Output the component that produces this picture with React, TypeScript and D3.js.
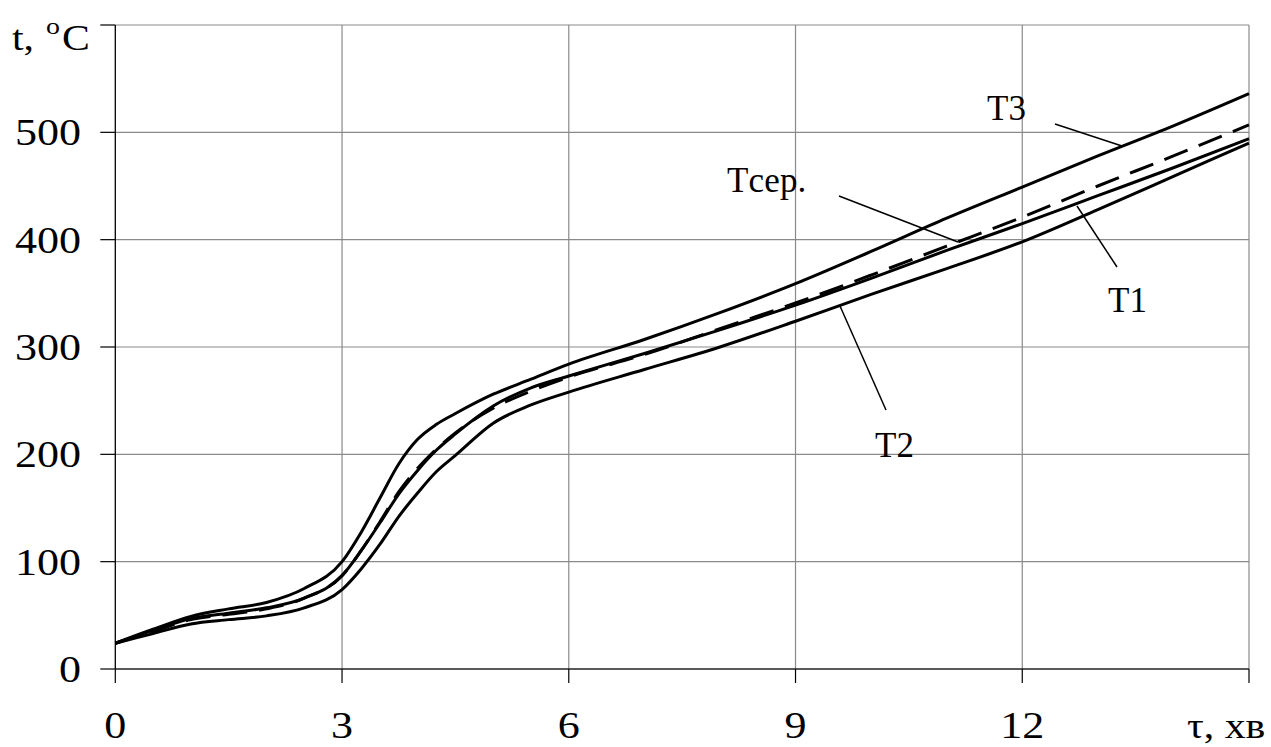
import React from "react";
import * as d3 from "d3";

const times = [0, 0.5, 1, 1.5, 2, 2.5, 3, 3.25, 3.5, 3.75, 4, 4.25, 4.5, 5, 5.5, 6, 7, 8, 9, 10, 11, 12, 13, 14, 15];
const t3 = [24, 37, 49, 56, 62, 75, 100, 127, 159, 191, 214, 228, 238, 256, 270, 284, 307, 332, 359, 389, 420, 449, 478, 506, 536];
const t1 = [24, 36, 47, 52, 57, 66, 87, 110, 136, 163, 185, 204, 219, 245, 262, 273, 294, 316, 339, 364, 390, 415, 441, 467, 494];
const t2 = [24, 33, 42, 46, 49.5, 57, 74, 93, 116, 142, 164, 184, 199, 229, 246, 258, 279, 300, 324, 349, 373, 398, 428, 459, 490];
const tcep = [24, 35, 46, 51, 56, 66, 87, 110, 137, 165, 187, 205, 220, 243, 259, 272, 293, 317, 341, 367, 394, 421, 450, 478, 507];

const xTicks = [0, 3, 6, 9, 12, 15];
const xTickLabels = ["0", "3", "6", "9", "12"];
const yTicks = [0, 100, 200, 300, 400, 500, 600];
const yTickLabels = ["0", "100", "200", "300", "400", "500"];

const seriesNames = ["T3", "T1", "T2", "Tсер."];

export default function App() {
  const x = d3.scaleLinear().domain([0, 15]).range([115.3, 1249]);
  const y = d3.scaleLinear().domain([0, 600]).range([669, 25]);
  const line = d3
    .line<number>()
    .x((_, i) => x(times[i]))
    .y((d) => y(d))
    .curve(d3.curveMonotoneX);

  const font = "'Liberation Serif', 'Times New Roman', serif";
  const grid = "#8a8a8a";
  const sx = 1.16;

  return (
    <svg
      width={1271}
      height={747}
      style={{ position: "absolute", left: 0, top: 0, background: "#fff" }}
      fontFamily={font}
    >
      <rect x={0} y={0} width={1271} height={747} fill="#fff" />
      {/* grid */}
      {yTicks.slice(1).map((v) => (
        <line key={"gy" + v} x1={x(0)} x2={x(15)} y1={y(v)} y2={y(v)} stroke={grid} strokeWidth={1.2} />
      ))}
      {xTicks.slice(1).map((v) => (
        <line key={"gx" + v} x1={x(v)} x2={x(v)} y1={y(0)} y2={y(600)} stroke={grid} strokeWidth={1.2} />
      ))}
      {/* axes */}
      <line x1={x(0)} x2={x(0)} y1={y(0)} y2={y(600)} stroke="#000" strokeWidth={1.3} />
      <line x1={x(0)} x2={x(15)} y1={y(0)} y2={y(0)} stroke="#222" strokeWidth={1.3} />
      {yTicks.map((v) => (
        <line key={"ty" + v} x1={x(0) - 15} x2={x(0)} y1={y(v)} y2={y(v)} stroke="#000" strokeWidth={1.2} />
      ))}
      {xTicks.map((v) => (
        <line key={"tx" + v} x1={x(v)} x2={x(v)} y1={y(0)} y2={y(0) + 14} stroke="#000" strokeWidth={1.2} />
      ))}
      {/* tick labels */}
      {yTickLabels.map((s, i) => (
        <text
          key={"ly" + s}
          transform={`translate(81,${y(yTicks[i]) + 13}) scale(${sx},1)`}
          fontSize={38}
          textAnchor="end"
          fill="#000"
        >
          {s}
        </text>
      ))}
      {xTickLabels.map((s, i) => (
        <text
          key={"lx" + s}
          transform={`translate(${x(xTicks[i])},738) scale(${sx},1)`}
          fontSize={38}
          textAnchor="middle"
          fill="#000"
        >
          {s}
        </text>
      ))}
      {/* axis titles */}
      <text transform={`translate(12,50) scale(${sx},1)`} fontSize={36} fill="#000">
        t,
      </text>
      <text transform={`translate(46,34) scale(${sx},1)`} fontSize={24} fill="#000">
        o
      </text>
      <text transform={`translate(62,50) scale(${sx},1)`} fontSize={36} fill="#000">
        C
      </text>
      <text transform={`translate(1187,738) scale(${sx},1)`} fontSize={36} fill="#000">
        τ, хв
      </text>
      {/* curves */}
      <path d={line(t3) || ""} fill="none" stroke="#000" strokeWidth={3} />
      <path d={line(t1) || ""} fill="none" stroke="#000" strokeWidth={3} />
      <path d={line(t2) || ""} fill="none" stroke="#000" strokeWidth={3} />
      <path d={line(tcep) || ""} fill="none" stroke="#000" strokeWidth={3} strokeDasharray="25 12" />
      {/* leader lines */}
      <line x1={1055} y1={124} x2={1122} y2={146} stroke="#000" strokeWidth={1.5} />
      <line x1={839} y1={196} x2={958} y2={242} stroke="#000" strokeWidth={1.5} />
      <line x1={1077} y1={206} x2={1117} y2={267} stroke="#000" strokeWidth={1.5} />
      <line x1={840} y1={306} x2={886} y2={410} stroke="#000" strokeWidth={1.5} />
      {/* labels */}
      <text x={987} y={120} fontSize={35} fill="#000">{seriesNames[0]}</text>
      <text x={1108} y={312} fontSize={35} fill="#000">{seriesNames[1]}</text>
      <text x={875} y={457} fontSize={35} fill="#000">{seriesNames[2]}</text>
      <text x={727} y={192} fontSize={35} fill="#000">{seriesNames[3]}</text>
    </svg>
  );
}
